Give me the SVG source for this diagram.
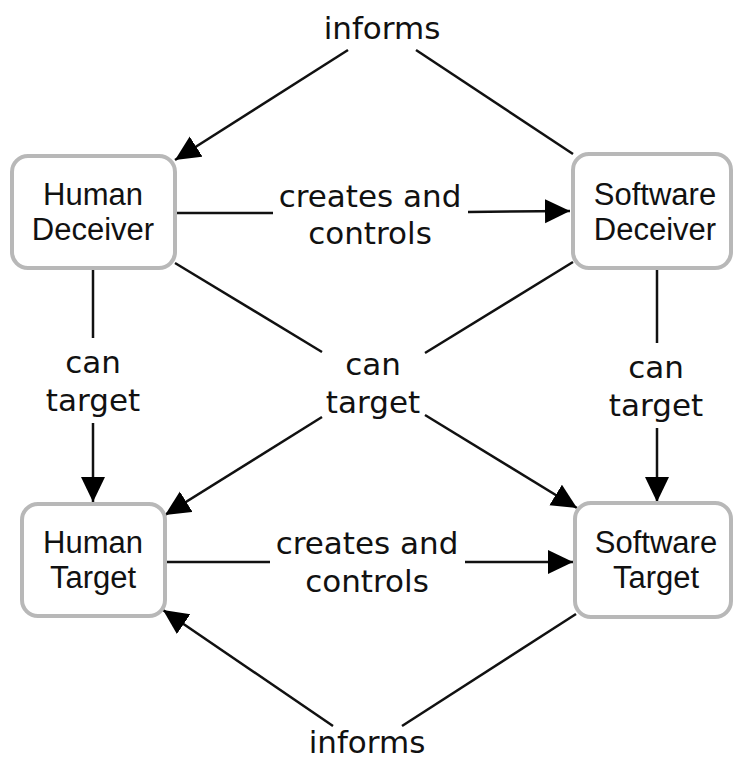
<svg xmlns="http://www.w3.org/2000/svg" width="734" height="760" viewBox="0 0 734 760">
<style>
.box{fill:#ffffff;stroke:#b8b8b8;stroke-width:4}
.nt{font-family:"Liberation Sans",Arial,sans-serif;font-size:31px;fill:#111;text-anchor:middle}
.et{font-family:"DejaVu Sans",Verdana,sans-serif;font-size:31px;fill:#111;text-anchor:middle}
.ln{stroke:#111;stroke-width:2.5;fill:none}
.ar{marker-end:url(#ah)}
</style>
<defs>
<marker id="ah" markerUnits="userSpaceOnUse" markerWidth="27" markerHeight="26" refX="25" refY="12" orient="auto" viewBox="0 0 27 26">
<path d="M0,0 L25,12 L0,24 z" fill="#000"/>
</marker>
</defs>
<g id="connectors">
<line class="ln ar" x1="348" y1="50" x2="175" y2="160"/>
<line class="ln" x1="416" y1="50" x2="573" y2="154"/>
<text class="et" x="382" y="39">informs</text>
<line class="ln" x1="177" y1="213" x2="273" y2="213"/>
<line class="ln ar" x1="468" y1="212" x2="570" y2="211"/>
<text class="et" x="370" y="207">creates and</text>
<text class="et" x="370" y="244">controls</text>
<line class="ln" x1="93" y1="270" x2="93" y2="338"/>
<line class="ln ar" x1="93" y1="423" x2="93" y2="502"/>
<text class="et" x="93" y="373">can</text>
<text class="et" x="93" y="411">target</text>
<line class="ln" x1="657" y1="268" x2="657" y2="343"/>
<line class="ln ar" x1="657" y1="428" x2="657" y2="502"/>
<text class="et" x="656" y="378">can</text>
<text class="et" x="656" y="416">target</text>
<line class="ln" x1="175" y1="263" x2="322" y2="352"/>
<line class="ln" x1="573" y1="262" x2="425" y2="353"/>
<line class="ln ar" x1="322" y1="417" x2="165" y2="515"/>
<line class="ln ar" x1="425" y1="415" x2="577" y2="508"/>
<text class="et" x="373" y="375">can</text>
<text class="et" x="373" y="413">target</text>
<line class="ln" x1="165" y1="562" x2="270" y2="562"/>
<line class="ln ar" x1="465" y1="562" x2="573" y2="562"/>
<text class="et" x="367" y="554">creates and</text>
<text class="et" x="367" y="592">controls</text>
<line class="ln ar" x1="333" y1="726" x2="163" y2="610"/>
<line class="ln" x1="402" y1="726" x2="576" y2="614"/>
<text class="et" x="367" y="753">informs</text>
</g>
<g id="human-deceiver">
<rect class="box" x="12" y="156" width="163" height="112" rx="16"/>
<text class="nt" x="93" y="205">Human</text>
<text class="nt" x="93" y="240">Deceiver</text>
</g>
<g id="software-deceiver">
<rect class="box" x="573" y="154" width="158" height="114" rx="16"/>
<text class="nt" x="655" y="205">Software</text>
<text class="nt" x="655" y="240">Deceiver</text>
</g>
<g id="human-target">
<rect class="box" x="22" y="504" width="143" height="112" rx="16"/>
<text class="nt" x="93" y="553">Human</text>
<text class="nt" x="93" y="588">Target</text>
</g>
<g id="software-target">
<rect class="box" x="575" y="503" width="156" height="114" rx="16"/>
<text class="nt" x="656" y="553">Software</text>
<text class="nt" x="656" y="588">Target</text>
</g>
</svg>
